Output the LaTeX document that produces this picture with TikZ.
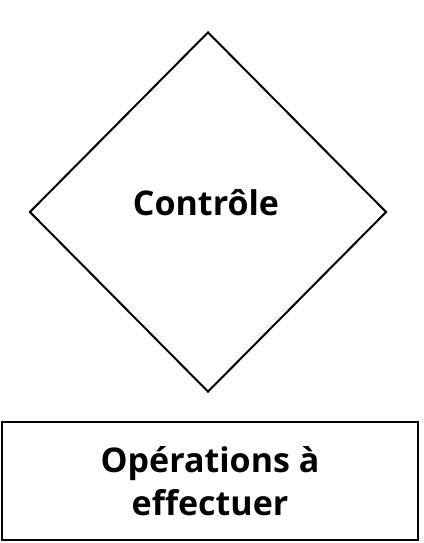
\documentclass[tikz,border=0pt]{standalone}
\usepackage{fontspec}
\setmainfont{Open Sans}
\usetikzlibrary{shapes.geometric}
\tikzset{
  controle/.style={draw, line width=2pt, diamond, aspect=1, inner sep=0pt,
    minimum width=357pt, minimum height=360pt},
  operation/.style={draw, line width=2.2pt, rectangle, inner sep=0pt,
    minimum width=416pt, minimum height=118pt, align=center,
    font=\bfseries\fontsize{34}{43}\selectfont}
}
\begin{document}
\begin{tikzpicture}[x=1pt, y=-1pt]
  \useasboundingbox (0, 0) rectangle (423, 543);
  \node[controle] (ctrl) at (208, 212) {};
  \node (ctrltext) at (206, 203) [font=\bfseries\fontsize{34}{40}\selectfont] {Contrôle};
  \node[operation] (ops) at (210, 481) {Opérations à\\effectuer};
\end{tikzpicture}
\end{document}
